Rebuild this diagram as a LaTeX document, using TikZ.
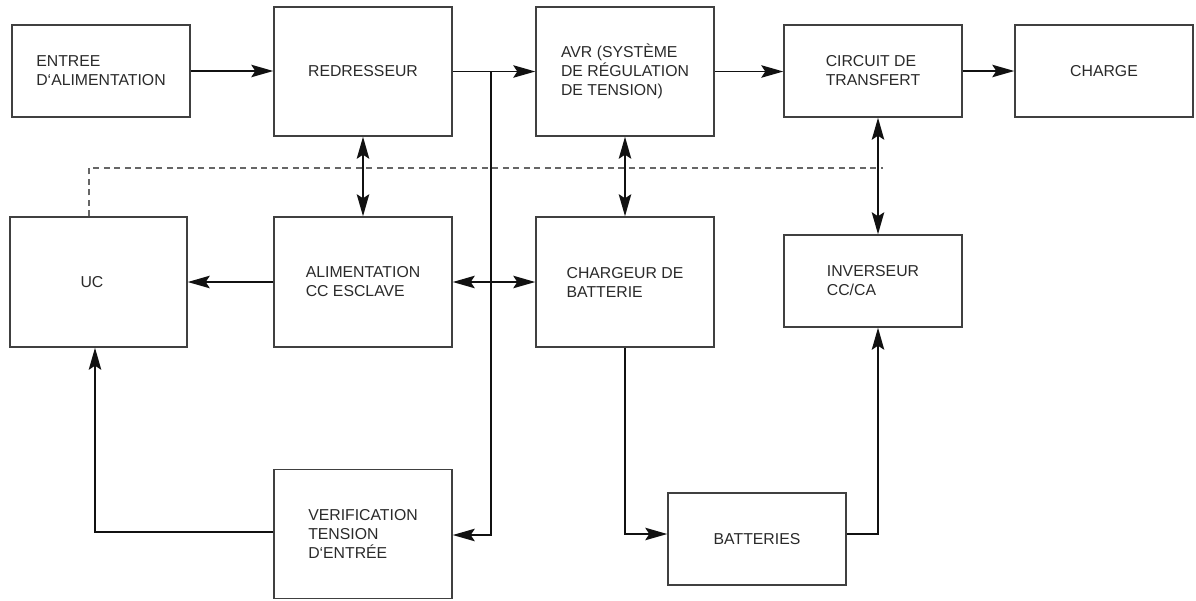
\documentclass[tikz,border=0pt]{standalone}
\usepackage{fontspec}
\setmainfont{Liberation Sans}
\usetikzlibrary{arrows.meta}
\definecolor{boxc}{HTML}{404040}
\definecolor{txt}{HTML}{2A2A2A}
\definecolor{lnc}{HTML}{111111}
\definecolor{dashc}{HTML}{666666}
\begin{document}
\begin{tikzpicture}[x=1pt,y=-1pt,
  box/.style={draw=boxc, line width=1.5pt, fill=white, align=left, inner sep=0pt,
    text=txt, font=\fontsize{15.8}{19}\selectfont},
  tall/.style={minimum width=178pt, minimum height=129pt},
  short/.style={minimum width=178pt, minimum height=92pt},
  tip/.tip={Stealth[length=22pt,width=12.5pt,inset=4pt]},
  conn/.style={draw=lnc, line width=1.5pt, -tip},
  dconn/.style={draw=lnc, line width=1.5pt, tip-tip},
  dashline/.style={draw=dashc, line width=1.4pt, dash pattern=on 6pt off 4.5pt}
]
\useasboundingbox (0,0) rectangle (1196,600);

\node[box,short] (ent) at (101,71) {ENTREE\\D‘ALIMENTATION};
\node[box,tall]  (red) at (363,71.5) {REDRESSEUR};
\node[box,tall]  (avr) at (625,71.5) {AVR (SYSTÈME\\DE RÉGULATION\\DE TENSION)};
\node[box,short] (cir) at (873,71) {CIRCUIT DE\\TRANSFERT};
\node[box,short] (chg) at (1104,71) {CHARGE};
\node[box,minimum width=177pt,minimum height=130pt] (uc) at (98.5,282) {};
\node[text=txt, font=\fontsize{15.8}{19}\selectfont] (uct) at (92,282) {UC};
\node[box,minimum width=178pt,minimum height=130pt] (ali) at (363,282) {ALIMENTATION\\CC ESCLAVE};
\node[box,minimum width=178pt,minimum height=130pt] (chb) at (625,282) {CHARGEUR DE\\BATTERIE};
\node[box,short] (inv) at (873,281) {INVERSEUR\\CC/CA};
\node[box,tall]  (ver) at (363,534) {VERIFICATION\\TENSION\\D‘ENTRÉE};
\node[box,short] (bat) at (757,539) {BATTERIES};

\coordinate (j) at (491,71.5);
\coordinate (cx) at (878,300);
\coordinate (ux) at (95,400);
\coordinate (dl) at (89,168);
\coordinate (dr) at (883,168);

% dashed control line
\draw[dashline] (uc.north -| dl) -- (dl) -- (dr);

% top row
\draw[conn] (ent.east) -- (ent.east -| red.west);
\draw[conn] (red.east) -- (avr.west);
\draw[conn] (avr.east) -- (avr.east -| cir.west);
\draw[conn] (cir.east) -- (chg.west);

% vertical feed to verification
\draw[conn] (j) |- ([yshift=-1pt]ver.east);

% vertical links
\draw[dconn] (red.south) -- (ali.north);
\draw[dconn] (avr.south) -- (chb.north);
\draw[dconn] (cir.south -| cx) -- (inv.north -| cx);

% middle row
\draw[conn] (ali.west) -- (uc.east);
\draw[dconn] (ali.east) -- (chb.west);

% verification to UC
\draw[conn] ([yshift=2pt]ver.west) -| (uc.south -| ux);

% charger to batteries to inverter
\draw[conn] (chb.south) |- ([yshift=5pt]bat.west);
\draw[conn] ([yshift=5pt]bat.east) -| (inv.south -| cx);
\end{tikzpicture}
\end{document}
